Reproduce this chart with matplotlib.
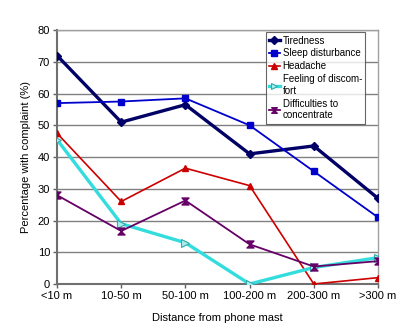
import matplotlib
matplotlib.use("Agg")
import matplotlib.pyplot as plt
from matplotlib.path import Path
import numpy as np

categories = ["<10 m", "10-50 m", "50-100 m", "100-200 m", "200-300 m", ">300 m"]
tiredness = [72, 51, 56.5, 41, 43.5, 27]
sleep = [57, 57.5, 58.5, 50, 35.5, 21]
headache = [47.5, 26, 36.5, 31, 0, 2]
discomfort = [45.5, 19, 13, 0, 5.2, 8.3]
difficulties = [28, 16.7, 26.3, 12.5, 5.5, 7.2]
yticks = [0, 10, 20, 30, 40, 50, 60, 70, 80]

hourglass = Path([(-1, 1), (1, 1), (-1, -1), (1, -1), (-1, 1)],
                 [Path.MOVETO, Path.LINETO, Path.LINETO, Path.LINETO, Path.CLOSEPOLY])

plt.rcParams['font.family'] = ['Liberation Sans', 'DejaVu Sans']
fig = plt.figure(figsize=(4.0, 3.31), dpi=100)
ax = fig.add_axes([0.1425, 0.142, 0.8025, 0.767])
x = np.arange(len(categories))

ax.plot(x, tiredness, color="#000066", lw=2.4, marker="D", ms=4.5, label="Tiredness", zorder=5)
ax.plot(x, sleep, color="#0000CC", lw=1.3, marker="s", ms=5, label="Sleep disturbance", zorder=5)
ax.plot(x, headache, color="#CC0000", lw=1.2, marker="^", ms=5, label="Headache", zorder=5)
ax.plot(x, discomfort, color="#33DDDD", lw=2.4, marker=">", ms=6, mfc="#AAEEEE",
        mec="#33AAAA", mew=0.8, label="Feeling of discom-\nfort", zorder=5)
ax.plot(x, difficulties, color="#660066", lw=1.3, marker=hourglass, ms=5,
        label="Difficulties to\nconcentrate", zorder=5)

ax.set_xlim(0, 5)
ax.set_ylim(0, 80)
ax.set_yticks(yticks)
ax.set_xticks(x)
ax.set_xticklabels(categories)
ax.yaxis.grid(True, color="#808080", lw=1.0)
ax.set_axisbelow(True)
ax.tick_params(axis="both", labelsize=8, length=3, color="#606060", width=1, pad=2)
for s in ["top", "right"]:
    ax.spines[s].set_color("#A0A0A0")
    ax.spines[s].set_linewidth(1.0)
for s in ["left", "bottom"]:
    ax.spines[s].set_color("#707070")
    ax.spines[s].set_linewidth(1.5)

ax.set_ylabel("Percentage with complaint (%)", fontsize=8, labelpad=5)
ax.set_xlabel("Distance from phone mast", fontsize=8, labelpad=9)

leg = ax.legend(loc="upper left", bbox_to_anchor=(0.65, 0.992), fontsize=7,
                frameon=True, fancybox=False, edgecolor="#404040",
                handlelength=1.1, handletextpad=0.3, borderpad=0.35,
                labelspacing=0.3, borderaxespad=0)
leg.get_frame().set_linewidth(0.8)
for h in leg.legend_handles:
    h.set_markersize(4)

fig.savefig("out.png", dpi=100, facecolor="white")
